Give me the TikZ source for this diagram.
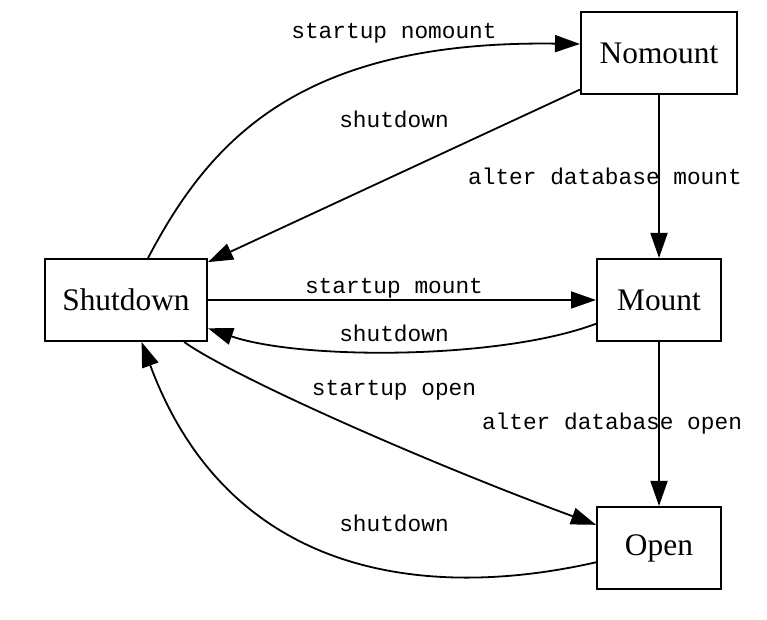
\documentclass[tikz,border=0pt]{standalone}
\usepackage{fontspec}
\setmainfont{Liberation Serif}
\newfontfamily\rotulofont{Liberation Mono}
\usepackage{tikz}
\usetikzlibrary{arrows.meta, positioning}
\tikzstyle{estado} = [draw, line width=1pt, rectangle, inner sep=0pt, minimum height=41pt, font=\fontsize{15.7}{18}\selectfont]
\tikzstyle{rotulo} = [inner sep=0pt, font=\rotulofont\fontsize{11.4}{13}\selectfont]
\tikzstyle{flecha} = [-{Triangle[length=12.5pt, width=8.5pt]}, line width=0.9pt]

\begin{document}
\begin{tikzpicture}[x=0.5pt, y=-0.5pt]
	\useasboundingbox (0,0) rectangle (767,620);
	% estados
	\node [estado, minimum width=78pt] (nm) at (659,53) {Nomount};
	\node [estado, minimum width=81pt] (sd) at (126,300) {Shutdown};
	\node [estado, minimum width=62pt] (mt) at (659,300) {Mount};
	\node [estado, minimum width=62pt] (op) at (659,548) {Open};
	% transiciones
	\draw [flecha] (sd) .. controls (210,140) and (300,40) .. ([yshift=4.5pt]nm.west);
	\draw [flecha] (nm) -- (sd);
	\draw [flecha] (nm) -- (mt);
	\draw [flecha] (sd) -- (mt);
	\draw [flecha] (mt) .. controls (500,360) and (300,360) .. (sd);
	\draw [flecha] (sd) .. controls (230,375) and (420,460) .. (op);
	\draw [flecha] (mt) -- (op);
	\draw [flecha] (op) .. controls (430,600) and (230,580) .. (sd);
	% rotulos
	\node [rotulo] (r1) at (394,33) {startup nomount};
	\node [rotulo] (r2) at (394,119) {shutdown};
	\node [rotulo] (r3) at (605,176) {alter database mount};
	\node [rotulo] (r4) at (394,288) {startup mount};
	\node [rotulo] (r5) at (394,333) {shutdown};
	\node [rotulo] (r6) at (394,390) {startup open};
	\node [rotulo] (r7) at (612,424) {alter database open};
	\node [rotulo] (r8) at (394,523) {shutdown};
\end{tikzpicture}
\end{document}
